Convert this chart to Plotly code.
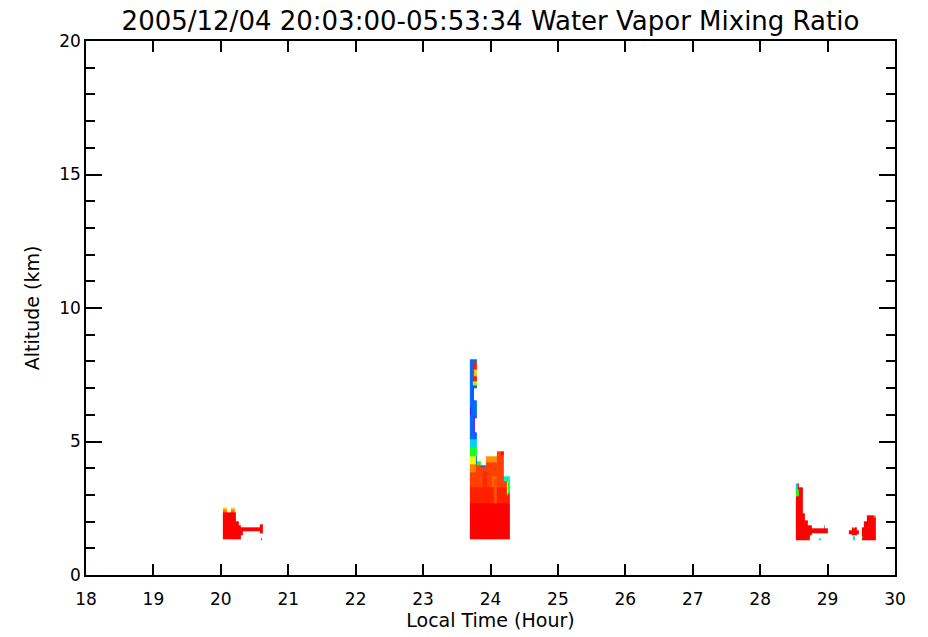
import plotly.graph_objects as go

# ---- data: water vapour mixing ratio patches (g/kg) ----
# each entry: (time_start_hr, time_end_hr, alt_low_km, alt_high_km, value); None = no data
blob_2000 = [
    (20.03, 20.23, 1.33, 2.35, 10),
    (20.03, 20.09, 2.35, 2.45, 8.3),
    (20.03, 20.09, 2.45, 2.52, 6.9),
    (20.15, 20.21, 2.35, 2.45, 8.3),
    (20.15, 20.21, 2.45, 2.52, 6.9),
    (20.23, 20.26, 1.33, 2.00, 10),
    (20.26, 20.29, 1.33, 1.87, 10),
    (20.29, 20.33, 1.50, 1.78, 10),
    (20.33, 20.58, 1.65, 1.80, 10),
    (20.58, 20.62, 1.55, 1.90, 10),
    (20.59, 20.61, 1.30, 1.38, 10),
]

blob_2400 = [
    # narrow tall column
    (23.70, 23.80, 4.12, 8.08, 2.3),
    (23.745, 23.80, 7.25, 7.95, 9.6),
    (23.755, 23.80, 7.45, 7.7, 7.4),
    (23.745, 23.80, 7.10, 7.25, 6.0),
    (23.74, 23.76, 6.50, 7.05, 0.5),
    (23.76, 23.80, 6.55, 7.00, None),
    (23.755, 23.77, 5.30, 5.95, 0.6),
    (23.77, 23.80, 5.36, 5.88, None),
    (23.70, 23.715, 6.0, 6.3, 1.2),
    (23.70, 23.80, 4.80, 5.10, 3.6),
    (23.70, 23.80, 4.45, 4.80, 5.0),
    (23.70, 23.79, 4.15, 4.45, 6.5),
    # wide lower part
    (23.70, 23.80, 1.34, 4.15, 9.0),
    (23.80, 23.85, 1.34, 4.25, 9.0),
    (23.85, 23.93, 1.34, 4.10, 9.0),
    (23.93, 23.97, 1.34, 4.30, 9.0),
    (23.97, 24.09, 1.34, 4.45, 9.0),
    (24.09, 24.20, 1.34, 4.62, 9.0),
    (24.20, 24.29, 1.34, 3.65, 9.0),
    (23.70, 23.79, 3.85, 4.15, 8.2),
    (23.80, 23.85, 4.12, 4.25, 5.2),
    (23.85, 23.92, 4.02, 4.10, 2.2),
    (23.93, 24.09, 4.22, 4.45, 8.0),
    (24.15, 24.20, 4.50, 4.62, 9.8),
    (23.88, 23.95, 3.30, 3.90, 9.4),
    (24.02, 24.10, 3.10, 3.70, 8.5),
    (23.70, 24.29, 1.34, 3.30, 9.5),
    (24.05, 24.09, 2.70, 3.60, 8.8),
    (23.70, 24.29, 1.34, 2.70, 10),
    (24.20, 24.29, 3.50, 3.68, 4.0),
    (24.26, 24.29, 3.05, 3.50, 5.0),
    (24.25, 24.26, 3.00, 3.50, 6.8),
]

blob_2900 = [
    (28.53, 28.57, 1.31, 3.43, 10),
    (28.57, 28.63, 1.31, 3.30, 10),
    (28.53, 28.56, 3.20, 3.43, 3.5),
    (28.53, 28.57, 2.95, 3.20, 5.2),
    (28.63, 28.66, 1.31, 2.30, 10),
    (28.66, 28.71, 1.31, 2.06, 10),
    (28.71, 28.74, 1.31, 1.87, 10),
    (28.74, 28.76, 1.50, 1.87, 10),
    (28.76, 29.01, 1.57, 1.76, 10),
    (28.94, 28.965, 1.76, 1.87, 3.0),
    (28.87, 28.90, 1.31, 1.38, 3.8),
    (29.31, 29.46, 1.54, 1.69, 10),
    (29.36, 29.43, 1.47, 1.80, 10),
    (29.38, 29.41, 1.75, 1.80, 7.5),
    (29.37, 29.40, 1.31, 1.46, 3.8),
    (29.505, 29.54, 1.31, 1.78, 10),
    (29.54, 29.58, 1.31, 2.02, 10),
    (29.58, 29.71, 1.31, 2.22, 10),
    (29.505, 29.53, 1.36, 1.46, 5.0),
    (29.69, 29.71, 2.15, 2.25, 8.0),
]

x_ticks = list(range(18, 31))
y_ticks = [0, 5, 10, 15, 20]

patch_t0, patch_t1, patch_a0, patch_a1, patch_v = [], [], [], [], []
for blob in (blob_2000, blob_2400, blob_2900):
    for t0, t1, a0, a1, v in blob:
        patch_t0.append(t0); patch_t1.append(t1)
        patch_a0.append(a0); patch_a1.append(a1)
        patch_v.append(v)

# ---- build the brick grid the heatmap needs from the patches ----
x_edges = sorted(set(patch_t0) | set(patch_t1))
y_edges = sorted(set(patch_a0) | set(patch_a1))
xc = [(x_edges[i] + x_edges[i + 1]) / 2 for i in range(len(x_edges) - 1)]
yc = [(y_edges[j] + y_edges[j + 1]) / 2 for j in range(len(y_edges) - 1)]
z = [[None] * len(xc) for _ in yc]
for k in range(len(patch_v)):
    for j, yv in enumerate(yc):
        if not (patch_a0[k] < yv < patch_a1[k]):
            continue
        for i, xv in enumerate(xc):
            if patch_t0[k] < xv < patch_t1[k]:
                z[j][i] = patch_v[k]

colorscale = [
    [0.00, '#9a00ff'], [0.10, '#4000ff'], [0.20, '#0050ff'], [0.33, '#00c0ff'],
    [0.42, '#00ffb0'], [0.52, '#20ff00'], [0.66, '#ffff00'], [0.78, '#ffa000'],
    [0.90, '#ff4000'], [1.00, '#ff0000'],
]

fig = go.Figure(go.Heatmap(
    x=x_edges, y=y_edges, z=z, zmin=0, zmax=10, colorscale=colorscale,
    showscale=False, zsmooth=False, hoverongaps=False, hoverinfo='skip',
))

font_family = "DejaVu Sans"
fig.update_layout(
    width=928, height=637,
    margin=dict(l=86, r=33, t=41, b=62),
    paper_bgcolor='white', plot_bgcolor='white',
    font=dict(family=font_family, color='black', size=17),
    title=dict(text='2005/12/04 20:03:00-05:53:34 Water Vapor Mixing Ratio',
               font=dict(family=font_family, size=26, color='black'),
               x=0.5, xanchor='center', xref='paper',
               y=1 - 21 / 637, yanchor='middle', yref='container'),
)
fig.update_xaxes(
    range=[18, 30], tickmode='array', tickvals=x_ticks, ticktext=[str(v) for v in x_ticks],
    ticks='inside', ticklen=11, tickwidth=1.5, tickcolor='black',
    showline=True, linecolor='black', linewidth=1.5, mirror='allticks',
    showgrid=False, zeroline=False, tickfont=dict(size=17), ticklabelstandoff=8,
    title=dict(text='Local Time (Hour)', font=dict(size=19), standoff=4),
)
fig.update_yaxes(
    range=[0, 20], tickmode='array', tickvals=y_ticks, ticktext=[str(v) for v in y_ticks],
    ticks='inside', ticklen=16, tickwidth=1.5, tickcolor='black',
    minor=dict(dtick=1, tick0=0, ticks='inside', ticklen=9, tickwidth=1.5,
               tickcolor='black', showgrid=False),
    showline=True, linecolor='black', linewidth=1.5, mirror='allticks',
    showgrid=False, zeroline=False, tickfont=dict(size=17),
    title=dict(text='Altitude (km)', font=dict(size=19), standoff=15),
)

fig.write_html("out.html", config={'displayModeBar': False},
               post_script="document.body.style.margin='0';")
